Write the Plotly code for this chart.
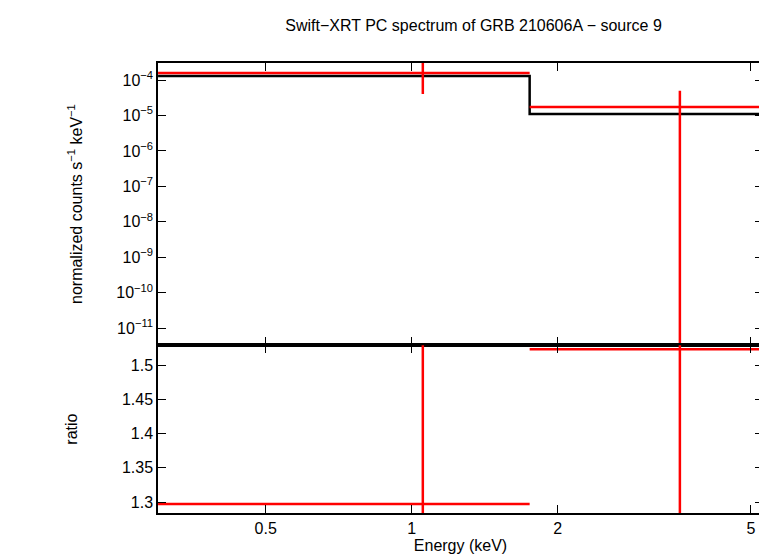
import plotly.graph_objects as go
from plotly.subplots import make_subplots

e_lo = [0.3, 1.75]
e_hi = [1.75, 5.3]
e_mid = [1.054, 3.57]
data = [1.58e-4, 1.73e-5]
data_lo = [4e-5, 1e-13]
data_hi = [1e-3, 5e-5]
model = [1.3e-4, 1.1e-5]
ratio = [1.297, 1.523]
ratio_lo = [1.0, 1.0]
ratio_hi = [2.0, 2.0]

fig = make_subplots(rows=2, cols=1, shared_xaxes=True, vertical_spacing=0,
                    row_heights=[0.627, 0.373])
red = "#ff0000"
mx, my = [], []
for a, b, m in zip(e_lo, e_hi, model):
    mx += [a, b]; my += [m, m]
fig.add_trace(go.Scatter(x=mx, y=my, mode="lines", line=dict(color="black", width=2.5)), 1, 1)
for a, b, c, d, lo, hi in zip(e_lo, e_hi, e_mid, data, data_lo, data_hi):
    fig.add_trace(go.Scatter(x=[a, b, None, c, c], y=[d, d, None, lo, hi], mode="lines",
                             line=dict(color=red, width=2.5)), 1, 1)
for a, b, c, r, lo, hi in zip(e_lo, e_hi, e_mid, ratio, ratio_lo, ratio_hi):
    fig.add_trace(go.Scatter(x=[a, b, None, c, c], y=[r, r, None, lo, hi], mode="lines",
                             line=dict(color=red, width=2.5)), 2, 1)

ax = dict(showline=True, linecolor="black", linewidth=1.5, mirror="allticks", ticks="inside",
          ticklen=8, tickcolor="black", showgrid=False, zeroline=False, automargin=False,
          tickfont=dict(size=16, color="black"))
xr = [-0.523, 0.724]
fig.update_xaxes(type="log", range=xr, tickvals=[0.5, 1, 2, 5], ticktext=["0.5", "1", "2", "5"], **ax)
fig.update_xaxes(title=dict(text="Energy (keV)", font=dict(size=16, color="black"), standoff=0), row=2, col=1)
fig.update_yaxes(type="log", range=[-11.48, -3.52], row=1, col=1,
                 tickvals=[10.0**k for k in range(-11, -3)],
                 ticktext=["10<sup>−%d</sup>" % k for k in range(11, 3, -1)],
                 title=dict(text="normalized counts s<sup>−1</sup> keV<sup>−1</sup>", font=dict(size=16, color="black"), standoff=30), **ax)
fig.update_yaxes(range=[1.284, 1.529], row=2, col=1, tickvals=[1.3, 1.35, 1.4, 1.45, 1.5],
                 ticktext=["1.3", "1.35", "1.4", "1.45", "1.5"],
                 title=dict(text="ratio", font=dict(size=16, color="black"), standoff=40), **ax)
fig.update_layout(width=767, height=556, showlegend=False, plot_bgcolor="white", paper_bgcolor="white",
                  margin=dict(l=150, r=12, t=55, b=51),
                  font=dict(family="Liberation Sans"),
                  title=dict(text="Swift−XRT PC spectrum of GRB 210606A − source 9", x=0.607, xanchor="center",
                             y=0.968, yanchor="middle", font=dict(size=16, color="black")))
fig.write_html("out.html")
